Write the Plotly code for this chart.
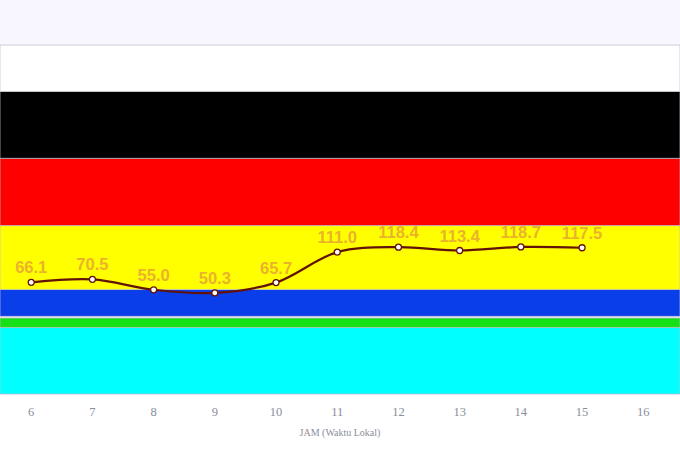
import plotly.graph_objects as go

# hourly readings
jam = [6, 7, 8, 9, 10, 11, 12, 13, 14, 15]
nilai = [66.1, 70.5, 55.0, 50.3, 65.7, 111.0, 118.4, 113.4, 118.7, 117.5]
tick_jam = [6, 7, 8, 9, 10, 11, 12, 13, 14, 15, 16]

# category bands (lower / upper bound + colour)
band_bawah = [-100, -1, 15.5, 55.5, 150.5, 250.5, 350]
band_atas = [-1, 13, 55.5, 150.5, 250.5, 350, 419]
band_warna = ["#00ffff", "#16e016", "#0a3ee8", "#ffff00", "#ff0000", "#000000", "#ffffff"]

fig = go.Figure()

shapes = []
for lo, hi, c in zip(band_bawah, band_atas, band_warna):
    shapes.append(dict(type="rect", xref="paper", yref="y", x0=0, x1=1, y0=lo, y1=hi,
                       fillcolor=c, line=dict(color="rgba(190,190,200,0.7)", width=1),
                       layer="below"))

fig.add_trace(go.Scatter(
    x=jam, y=nilai, mode="lines+markers+text",
    line=dict(color="#621206", width=2.2, shape="spline"),
    marker=dict(size=6, color="white", line=dict(color="#621206", width=1.3)),
    text=["%.1f" % v for v in nilai], textposition="top center",
    textfont=dict(family="Liberation Sans", size=16.5, color="#ebb22c", weight="bold"),
    cliponaxis=False, hoverinfo="x+y"))

fig.update_layout(
    width=680, height=460,
    margin=dict(l=0, r=0, t=0, b=65),
    paper_bgcolor="white", plot_bgcolor="#f8f6ff",
    showlegend=False, shapes=shapes,
    xaxis=dict(range=[5.49, 16.6], tickvals=tick_jam, showgrid=False, zeroline=False,
               ticks="outside", ticklen=5, tickcolor="rgba(0,0,0,0)",
               tickfont=dict(family="Liberation Serif", size=12.5, color="#8a8e9a"),
               title=dict(text="JAM (Waktu Lokal)", standoff=10,
                          font=dict(family="Liberation Serif", size=10, color="#8a8e9a"))),
    yaxis=dict(range=[-101.5, 486], showgrid=False, zeroline=False, showticklabels=False,
               ticks=""),
)

fig.write_html("out.html", config={"displayModeBar": False},
               post_script="document.body.style.margin='0';")
